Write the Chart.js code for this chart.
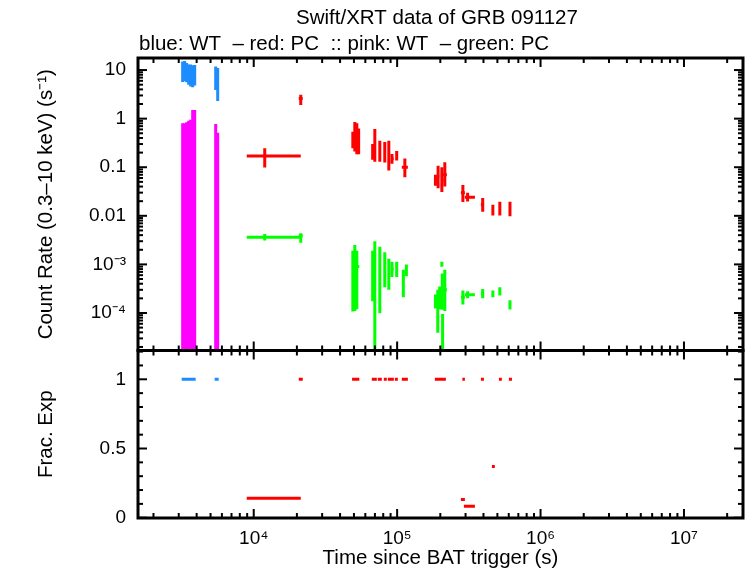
<!DOCTYPE html>
<html>
<head>
<meta charset="utf-8">
<script src="https://cdn.jsdelivr.net/npm/chart.js@4.4.1/dist/chart.umd.min.js"></script>
<style>
html, body { margin: 0; padding: 0; background: #fff; }
</style>
</head>
<body>
<canvas id="lc" width="746" height="568"></canvas>
<script>

// blue: WT
var wtTime   = [3195, 3300, 3408, 3519, 3634, 3753, 3876, 5430, 5608];
var wtTimeLo = [3146, 3247, 3354, 3463, 3576, 3693, 3814, 5343, 5518];
var wtTimeHi = [3247, 3354, 3463, 3576, 3693, 3814, 3938, 5518, 5699];
var wtRate   = [9.0, 9.5, 9.0, 8.0, 7.8, 7.5, 7.8, 7.0, 5.5];
var wtRateLo = [5.7, 5.9, 5.6, 5.0, 4.6, 4.4, 4.8, 3.9, 2.3];
var wtRateHi = [15.0, 15.3, 14.0, 13.0, 13.0, 12.5, 12.7, 11.9, 11.0];

// pink: WT (lower errors go below zero)
var wt2Rate   = [0.41, 0.41, 0.42, 0.45, 0.48, 0.75, 0.75, 0.39, 0.26];
var wt2RateLo = [-0.01, -0.01, -0.01, -0.01, -0.01, -0.01, -0.01, -0.01, -0.01];
var wt2RateHi = [0.80, 0.80, 0.84, 0.90, 0.95, 1.50, 1.50, 0.78, 0.51];

// red: PC
var pcTime   = [11935, 21280, 49090, 50690, 52340, 53900, 67500, 69900, 75700, 82000, 87500, 92000, 99300, 113200, 185000, 193000, 205000, 215000, 287400, 310000, 395000, 465000, 520000, 612000];
var pcTimeLo = [8938, 20610, 48500, 49700, 51500, 53200, 66600, 68800, 74500, 80700, 86100, 90500, 97900, 107800, 183300, 189300, 201800, 208400, 278300, 296800, 383800, 458100, 512500, 601800];
var pcTimeHi = [21280, 21980, 49700, 51500, 53200, 54500, 68400, 71000, 77000, 83400, 89000, 94800, 101100, 118800, 189300, 198000, 211000, 222300, 296800, 348500, 405000, 473000, 529200, 621600];
var pcRate   = [0.17, 2.6, 0.37, 0.42, 0.40, 0.35, 0.21, 0.30, 0.22, 0.21, 0.17, 0.15, 0.17, 0.10, 0.054, 0.065, 0.055, 0.07, 0.030, 0.024, 0.017, 0.013, 0.014, 0.014];
var pcRateLo = [0.099, 1.9, 0.247, 0.21, 0.185, 0.185, 0.142, 0.13, 0.13, 0.125, 0.086, 0.118, 0.137, 0.062, 0.0415, 0.037, 0.031, 0.04, 0.0192, 0.0196, 0.0121, 0.0102, 0.0102, 0.0098];
var pcRateHi = [0.247, 3.1, 0.54, 0.855, 0.80, 0.63, 0.30, 0.61, 0.35, 0.33, 0.35, 0.188, 0.217, 0.152, 0.070, 0.107, 0.10, 0.127, 0.043, 0.030, 0.0232, 0.0169, 0.0195, 0.0195];

// green: PC
var pc2Time   = [11935, 21280, 49090, 50690, 52340, 67500, 69900, 75700, 82000, 87500, 92000, 99300, 110500, 116000, 185000, 192000, 198000, 205000, 206500, 207500, 215000, 287400, 310000, 395000, 465000, 520000, 612000];
var pc2TimeLo = [8938, 20610, 48500, 49700, 51500, 66600, 68800, 74500, 80700, 86100, 90500, 97900, 107800, 113200, 183300, 189300, 195000, 201800, 203000, 204000, 208400, 278300, 296800, 383800, 458100, 512500, 601800];
var pc2TimeHi = [21280, 21980, 49700, 51500, 54500, 68400, 71000, 77000, 83400, 89000, 94800, 101100, 113200, 118800, 189300, 196000, 203000, 208000, 210000, 211000, 222300, 296800, 348500, 405000, 473000, 529200, 621600];
var pc2Rate   = [3.6e-3, 3.9e-3, 9e-4, 1.0e-3, 9e-4, 8e-4, 1.5e-3, 1.0e-3, 9e-4, 7e-4, 8e-4, 8e-4, 4.5e-4, 7.5e-4, 1.7e-4, 1.2e-4, 2.0e-4, 1.0e-3, 3.0e-4, 4.7e-5, 3.0e-4, 2.1e-4, 2.36e-4, 2.5e-4, 2.5e-4, 2.8e-4, 1.5e-4];
var pc2RateLo = [3.1e-3, 2.8e-3, 1.07e-4, 1.1e-4, 1.2e-4, 1.75e-4, -1e-4, 9.9e-5, 3.4e-4, 3.0e-4, 5.5e-4, 5.5e-4, 2.1e-4, 5.7e-4, 1.24e-4, 3.9e-5, 1.2e-4, 8.9e-4, 1.16e-4, -1e-6, 1.1e-4, 1.5e-4, 2.0e-4, 2.0e-4, 2.1e-4, 2.3e-4, 1.18e-4];
var pc2RateHi = [4.2e-3, 4.4e-3, 1.92e-3, 2.5e-3, 1.9e-3, 1.92e-3, 3.0e-3, 2.3e-3, 1.77e-3, 1.3e-3, 1.13e-3, 1.14e-3, 7.8e-4, 9.9e-4, 2.4e-4, 3.0e-4, 3.5e-4, 1.14e-3, 6.5e-4, 9.5e-5, 7.8e-4, 2.9e-4, 2.8e-4, 3.1e-4, 2.9e-4, 3.4e-4, 1.83e-4];

// fractional exposure
var fexWtLo = [3146, 5343];
var fexWtHi = [3938, 5699];
var fexWt   = [1, 1];
var fexPcLo = [8938, 20610, 48500, 66600, 73330, 80740, 86100, 96400, 107800, 183300, 285000, 278300, 292000, 383800, 458100, 512500, 601800];
var fexPcHi = [21280, 21980, 54500, 72200, 78190, 84700, 94840, 101100, 118800, 218700, 296800, 296800, 348500, 402800, 480000, 537000, 631600];
var fexPc   = [0.14, 1, 1, 1, 1, 1, 1, 1, 1, 1, 1, 0.131, 0.083, 1, 0.37, 1, 1];

var xTicks = [1e4, 1e5, 1e6, 1e7];
var yTicks = [1e-4, 1e-3, 0.01, 0.1, 1, 10];
var fTicks = [0, 0.5, 1];

var FONT = "'Liberation Sans', Arial, Helvetica, sans-serif";
var SUP = {"-": "\u207b", "0": "\u2070", "1": "\u00b9", "2": "\u00b2", "3": "\u00b3", "4": "\u2074", "5": "\u2075", "6": "\u2076", "7": "\u2077", "8": "\u2078", "9": "\u2079"};

function sup(n)
{
        return String(n).split("").map(function(c) { return SUP[c]; }).join("");
}

function pow10(v)
{
        return "10" + sup(Math.round(Math.log10(v)));
}

function rows(t, tlo, thi, r, rlo, rhi)
{
        var out = [];
        for (var i = 0; i < r.length; i++) {
                out.push({x: t[i], y: r[i], xMin: tlo[i], xMax: thi[i], yMin: rlo[i], yMax: rhi[i]});
        }
        return out;
}

function fracRows(tlo, thi, f)
{
        var out = [];
        for (var i = 0; i < f.length; i++) {
                var mid = Math.sqrt(tlo[i] * thi[i]);
                out.push({x: mid, y: f[i], xMin: tlo[i], xMax: thi[i], yMin: f[i], yMax: f[i]});
        }
        return out;
}

function setTicks(list)
{
        return function(scale) {
                scale.ticks = list.map(function(v) { return {value: v}; });
        };
}

// gnuplot style error bars, drawn through each dataset's own scales
var errorBars = {
        id: "errorBars",
        afterDatasetsDraw: function(chart) {
                var ctx = chart.ctx;
                chart.data.datasets.forEach(function(ds, i) {
                        var meta = chart.getDatasetMeta(i);
                        var xs = meta.xScale, ys = meta.yScale;
                        ctx.save();
                        ctx.beginPath();
                        ctx.rect(xs.left, ys.top, xs.right - xs.left, ys.bottom - ys.top);
                        ctx.clip();
                        ctx.strokeStyle = ds.borderColor;
                        ctx.lineWidth = 3;
                        ctx.lineCap = "butt";
                        ds.data.forEach(function(p) {
                                var x  = xs.getPixelForValue(p.x);
                                var y  = ys.getPixelForValue(p.y);
                                var x0 = xs.getPixelForValue(p.xMin);
                                var x1 = xs.getPixelForValue(p.xMax);
                                var y0 = (ys.type === "logarithmic" && p.yMin <= 0) ? ys.bottom + 5 : ys.getPixelForValue(p.yMin);
                                var y1 = ys.getPixelForValue(p.yMax);
                                ctx.beginPath();
                                ctx.moveTo(x0, y);
                                ctx.lineTo(x1, y);
                                if (y0 !== y1) {
                                        ctx.moveTo(x, y0);
                                        ctx.lineTo(x, y1);
                                }
                                ctx.stroke();
                        });
                        ctx.restore();
                });
        }
};

// box, mirrored inward ticks and the two title lines
var frame = {
        id: "frame",
        afterDraw: function(chart) {
                var ctx = chart.ctx;
                var xs = chart.scales.x;
                var panels = [chart.scales.y, chart.scales.yfrac];
                var L = xs.left, R = xs.right;
                var n, k, v, px;

                ctx.save();
                ctx.strokeStyle = "#000";
                ctx.lineWidth = 2;

                function tick(x0, y0, x1, y1) {
                        ctx.beginPath();
                        ctx.moveTo(x0, y0);
                        ctx.lineTo(x1, y1);
                        ctx.stroke();
                }

                panels.forEach(function(s) {
                        var T = s.top, B = s.bottom;
                        for (n = 3; n <= 7; n++) {
                                for (k = 1; k <= 9; k++) {
                                        v = k * Math.pow(10, n);
                                        if (v < xs.min || v > xs.max) continue;
                                        px = xs.getPixelForValue(v);
                                        var len = (k === 1) ? 9 : 5;
                                        tick(px, B, px, B - len);
                                        tick(px, T, px, T + len);
                                }
                        }
                });

                var ya = chart.scales.y;
                for (n = -5; n <= 1; n++) {
                        for (k = 1; k <= 9; k++) {
                                v = k * Math.pow(10, n);
                                if (v < ya.min || v > ya.max) continue;
                                px = ya.getPixelForValue(v);
                                var l2 = (k === 1) ? 9 : 5;
                                tick(L, px, L + l2, px);
                                tick(R, px, R - l2, px);
                        }
                }

                var yb = chart.scales.yfrac;
                for (k = 0; k <= 12; k++) {
                        v = k / 10;
                        if (v > yb.max) continue;
                        px = yb.getPixelForValue(v);
                        var l3 = (k % 5 === 0) ? 9 : 5;
                        tick(L, px, L + l3, px);
                        tick(R, px, R - l3, px);
                }

                ctx.lineWidth = 3;
                panels.forEach(function(s) {
                        ctx.strokeRect(L, s.top, R - L, s.bottom - s.top);
                });

                ctx.fillStyle = "#000";
                ctx.font = "20.5px " + FONT;
                ctx.textBaseline = "middle";
                ctx.textAlign = "center";
                ctx.fillText("Swift/XRT data of GRB 091127", 437, 18);
                ctx.textAlign = "left";
                ctx.fillText("blue: WT  \u2013 red: PC  :: pink: WT  \u2013 green: PC", 139, 44);
                ctx.restore();
        }
};

var tickFont  = {family: FONT, size: 19};
var titleFont = {family: FONT, size: 20.5};

var chart = new Chart(document.getElementById("lc"), {
        type: "scatter",
        data: {
                datasets: [
                        {label: "WT",  borderColor: "#1e8cff", yAxisID: "y",     pointRadius: 0, data: rows(wtTime, wtTimeLo, wtTimeHi, wtRate, wtRateLo, wtRateHi)},
                        {label: "PC",  borderColor: "#ff0000", yAxisID: "y",     pointRadius: 0, data: rows(pcTime, pcTimeLo, pcTimeHi, pcRate, pcRateLo, pcRateHi)},
                        {label: "WT2", borderColor: "#ff00ff", yAxisID: "y",     pointRadius: 0, data: rows(wtTime, wtTimeLo, wtTimeHi, wt2Rate, wt2RateLo, wt2RateHi)},
                        {label: "PC2", borderColor: "#00ff00", yAxisID: "y",     pointRadius: 0, data: rows(pc2Time, pc2TimeLo, pc2TimeHi, pc2Rate, pc2RateLo, pc2RateHi)},
                        {label: "fWT", borderColor: "#1e8cff", yAxisID: "yfrac", pointRadius: 0, data: fracRows(fexWtLo, fexWtHi, fexWt)},
                        {label: "fPC", borderColor: "#ff0000", yAxisID: "yfrac", pointRadius: 0, data: fracRows(fexPcLo, fexPcHi, fexPc)}
                ]
        },
        options: {
                responsive: false,
                animation: false,
                devicePixelRatio: 1,
                layout: {padding: {top: 58, right: 3, left: 0, bottom: 0}},
                plugins: {legend: {display: false}, tooltip: {enabled: false}, title: {display: false}},
                scales: {
                        x: {
                                type: "logarithmic", position: "bottom", min: 1560, max: 2.58e7,
                                grid: {display: false, drawTicks: false}, border: {display: false},
                                afterBuildTicks: setTicks(xTicks),
                                afterFit: function(s) { s.height = 50; },
                                ticks: {autoSkip: false, maxRotation: 0, padding: 9, color: "#000", font: tickFont, callback: function(v) { return pow10(v); }},
                                title: {display: true, text: "Time since BAT trigger (s)", color: "#000", font: titleFont, padding: {top: 0, bottom: -3}}
                        },
                        yfrac: {
                                type: "linear", position: "left", stack: "panels", stackWeight: 167.5, min: -0.002, max: 1.208,
                                grid: {display: false, drawTicks: false}, border: {display: false},
                                afterBuildTicks: setTicks(fTicks),
                                afterFit: function(s) { s.width = 138; },
                                ticks: {autoSkip: false, padding: 12, color: "#000", font: tickFont, callback: function(v) { return String(v); }},
                                title: {display: true, text: "Frac. Exp", color: "#000", font: titleFont, padding: {top: 34, bottom: 0}}
                        },
                        y: {
                                type: "logarithmic", position: "left", stack: "panels", stackWeight: 292.5, min: 1.69e-5, max: 17.7,
                                grid: {display: false, drawTicks: false}, border: {display: false},
                                afterBuildTicks: setTicks(yTicks),
                                afterFit: function(s) { s.width = 138; },
                                ticks: {autoSkip: false, padding: 12, color: "#000", font: tickFont, callback: function(v) { return v >= 0.01 ? String(v) : pow10(v); }},
                                title: {display: true, text: "Count Rate (0.3\u201310 keV) (s\u207b\u00b9)", color: "#000", font: titleFont, padding: {top: 34, bottom: 0}}
                        }
                }
        },
        plugins: [errorBars, frame]
});
</script>
</body>
</html>
